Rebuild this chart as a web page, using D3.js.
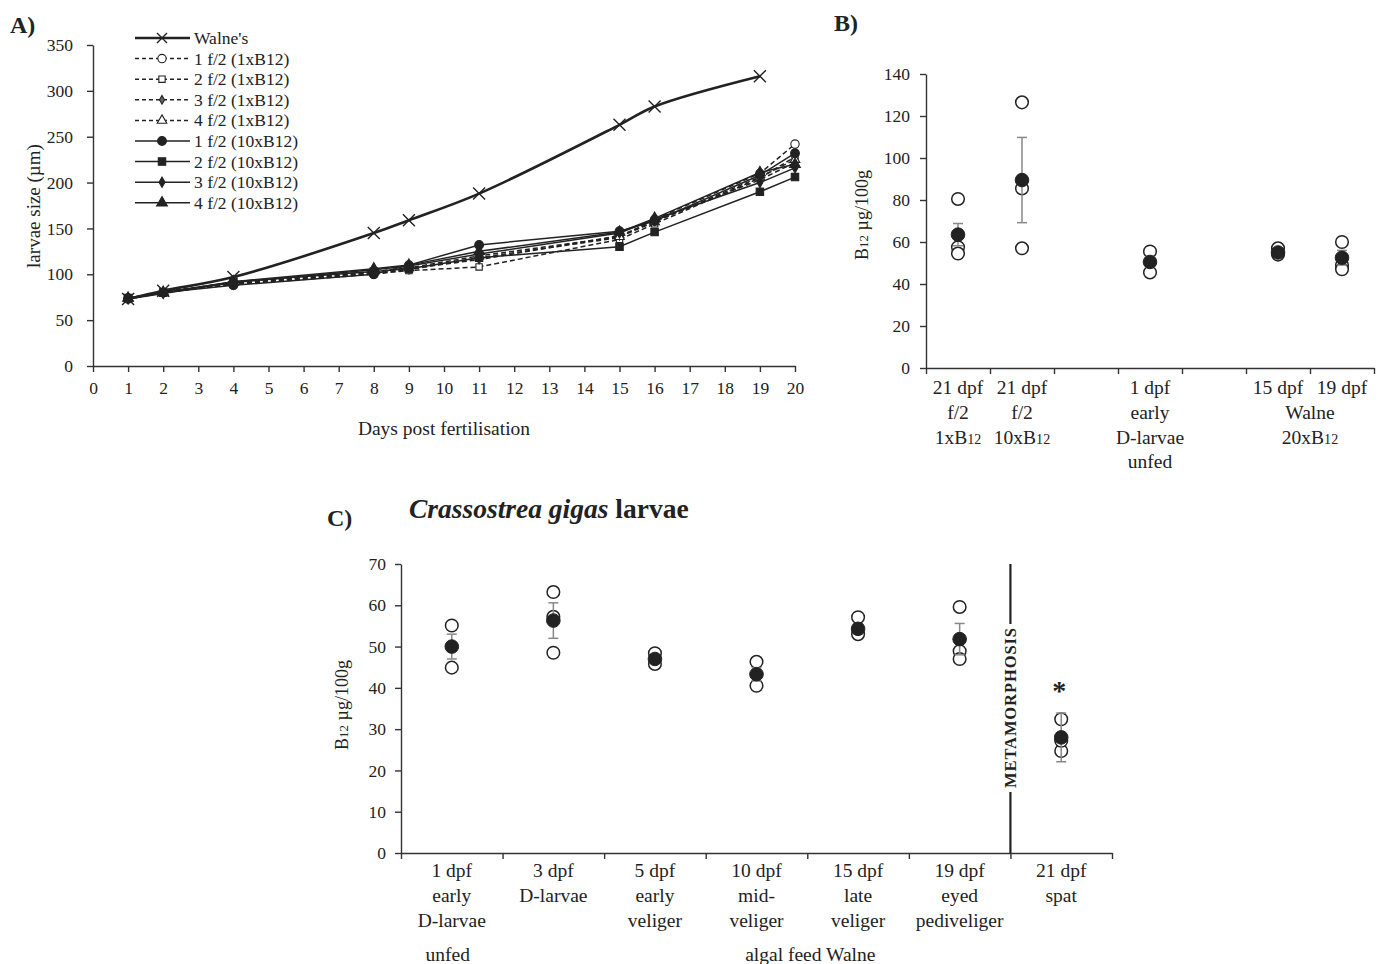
<!DOCTYPE html>
<html>
<head>
<meta charset="utf-8">
<script src="https://cdn.jsdelivr.net/npm/d3@7"></script>
<style>
  body { margin: 0; background: #fff; }
  svg { font-family: "Liberation Serif", "Times New Roman", serif; }
  .axis path, .axis line { stroke: #333; stroke-width: 1.4; }
  .axis text { font-size: 17.5px; fill: #222; font-family: "Liberation Serif", serif; }
</style>
</head>
<body>
<div class="chart"></div>
<script>
// ---- panel A: larvae growth ----
var walneDays = [1, 2, 4, 8, 9, 11, 15, 16, 19];
var walneSize = [73, 82, 97, 145, 159, 188, 263, 283, 316];
var f2Days = [1, 2, 4, 8, 9, 11, 15, 16, 19, 20];
var f2Names = ["1 f/2 (1xB12)", "2 f/2 (1xB12)", "3 f/2 (1xB12)", "4 f/2 (1xB12)",
               "1 f/2 (10xB12)", "2 f/2 (10xB12)", "3 f/2 (10xB12)", "4 f/2 (10xB12)"];
var f2Sizes = [
  [73, 80, 89, 100, 105, 118, 140, 160, 210, 242],
  [74, 81, 90, 101, 104, 108, 138, 155, 205, 228],
  [73, 80, 90, 102, 106, 116, 142, 158, 203, 222],
  [74, 81, 91, 103, 107, 120, 141, 157, 206, 225],
  [74, 80, 88, 100, 110, 132, 147, 158, 208, 232],
  [74, 80, 92, 103, 106, 118, 130, 146, 190, 206],
  [73, 79, 91, 105, 109, 122, 145, 160, 200, 216],
  [74, 80, 92, 106, 110, 125, 146, 161, 211, 220]
];

// ---- panel B: B12 content ----
var bCats = ["21f1", "21f10", "gap1", "1dpf", "gap2", "15dpf", "19dpf"];
var bMean = [63.5, 89.5, null, 50.5, null, 55, 52.5];
var bErr = [5.3, 20.3, null, 2.5, null, 1.2, 3.5];
var bReps = [[80.5, 57.5, 54.5], [126.5, 85.5, 57], [], [55.5, 45.5], [], [57, 54], [60, 49, 47]];

// ---- panel C: B12 over development ----
var cCats = ["1 dpf", "3 dpf", "5 dpf", "10 dpf", "15 dpf", "19 dpf", "21 dpf"];
var cLines = [["1 dpf", "early", "D-larvae"], ["3 dpf", "D-larvae"], ["5 dpf", "early", "veliger"],
              ["10 dpf", "mid-", "veliger"], ["15 dpf", "late", "veliger"],
              ["19 dpf", "eyed", "pediveliger"], ["21 dpf", "spat"]];
var cMean = [50, 56.3, 47, 43.3, 54.3, 51.8, 28];
var cErr = [3, 4.3, 1, 1.6, 1.2, 3.8, 5.9];
var cReps = [[55.1, 44.9], [63.2, 57.2, 48.5], [48.4, 45.8], [46.3, 40.5], [57.1, 53], [59.6, 48.9, 47], [32.4, 24.7, 27.2]];

var svg = d3.select(".chart").append("svg")
  .attr("width", 1385).attr("height", 964);

var ink = "#222";

function b12Text(sel, pre, post) {
  sel.append("tspan").text(pre + "B");
  sel.append("tspan").attr("font-size", "0.72em").text("12");
  if (post) sel.append("tspan").text(post);
}

// ================= A =================
var ax = d3.scaleLinear().domain([0, 20]).range([93, 795]);
var ay = d3.scaleLinear().domain([0, 350]).range([366, 45]);

svg.append("text").attr("x", 10).attr("y", 33).attr("font-size", 24)
  .attr("font-weight", "bold").attr("fill", ink).text("A)");

svg.append("g").attr("class", "axis")
  .attr("transform", "translate(0,366)")
  .call(d3.axisBottom(ax).tickValues(d3.range(0, 21)).tickSize(6).tickSizeOuter(0).tickPadding(10));

svg.append("g").attr("class", "axis")
  .attr("transform", "translate(93,0)")
  .call(d3.axisLeft(ay).tickValues(d3.range(0, 351, 50)).tickSize(6).tickSizeOuter(0).tickPadding(14));

svg.append("text").attr("x", 444).attr("y", 435).attr("text-anchor", "middle")
  .attr("font-size", 19.5).attr("fill", ink).text("Days post fertilisation");
svg.append("text").attr("transform", "translate(40,206) rotate(-90)")
  .attr("text-anchor", "middle").attr("font-size", 19).attr("fill", ink).text("larvae size (µm)");

var symTypes = [d3.symbolCircle, d3.symbolSquare, d3.symbolDiamond, d3.symbolTriangle,
                d3.symbolCircle, d3.symbolSquare, d3.symbolDiamond, d3.symbolTriangle];
var symSize = [55, 40, 22, 40, 60, 55, 30, 50];

var lineA = d3.line().x(function(d) { return ax(d[0]); }).y(function(d) { return ay(d[1]); });

f2Sizes.forEach(function(vals, i) {
  var pts = f2Days.map(function(d, j) { return [d, vals[j]]; });
  svg.append("path").attr("d", lineA(pts))
    .attr("fill", "none").attr("stroke", ink).attr("stroke-width", 1.5)
    .attr("stroke-dasharray", i < 4 ? "5,3" : null);
});
f2Sizes.forEach(function(vals, i) {
  svg.selectAll(null).data(f2Days.map(function(d, j) { return [d, vals[j]]; }))
    .enter().append("path")
    .attr("transform", function(d) { return "translate(" + ax(d[0]) + "," + ay(d[1]) + ")"; })
    .attr("d", d3.symbol().type(symTypes[i]).size(symSize[i]))
    .attr("fill", i < 4 ? (i == 2 ? "#666" : "#fff") : ink)
    .attr("stroke", ink).attr("stroke-width", 1.1);
});

var walnePts = walneDays.map(function(d, j) { return [d, walneSize[j]]; });
svg.append("path").attr("d", lineA.curve(d3.curveCatmullRom.alpha(0.5))(walnePts))
  .attr("fill", "none").attr("stroke", ink).attr("stroke-width", 2.6);
function cross(g, x, y, r) {
  g.append("path").attr("d", "M" + (x - r) + "," + (y - r) + "L" + (x + r) + "," + (y + r) +
    "M" + (x - r) + "," + (y + r) + "L" + (x + r) + "," + (y - r))
    .attr("stroke", ink).attr("stroke-width", 1.4);
}
walnePts.forEach(function(p) { cross(svg, ax(p[0]), ay(p[1]), 6); });

// legend
var leg = svg.append("g");
var legNames = ["Walne's"].concat(f2Names);
legNames.forEach(function(name, i) {
  var y = 38 + i * 20.6;
  leg.append("line").attr("x1", 135).attr("x2", 190).attr("y1", y).attr("y2", y)
    .attr("stroke", ink).attr("stroke-width", i == 0 ? 2.6 : 1.5)
    .attr("stroke-dasharray", i >= 1 && i <= 4 ? "4,3" : null);
  if (i == 0) {
    cross(leg, 162, y, 5);
  } else {
    var k = i - 1;
    leg.append("path").attr("transform", "translate(162," + y + ")")
      .attr("d", d3.symbol().type(symTypes[k]).size(symSize[k]))
      .attr("fill", k < 4 ? (k == 2 ? "#666" : "#fff") : ink)
      .attr("stroke", ink).attr("stroke-width", 1.1);
  }
  leg.append("text").attr("x", 194).attr("y", y + 6).attr("font-size", 17.5)
    .attr("fill", ink).text(name);
});

// ================= shared dot plot =================
function dots(g, xs, y, reps, mean, err) {
  reps.forEach(function(vals, i) {
    if (mean[i] == null) return;
    var cx = xs(i);
    g.selectAll(null).data(vals).enter().append("circle")
      .attr("cx", cx).attr("cy", function(d) { return y(d); }).attr("r", 6.3)
      .attr("fill", "#fff").attr("stroke", ink).attr("stroke-width", 1.5);
    var top = y(mean[i] + err[i]), bot = y(mean[i] - err[i]);
    g.append("line").attr("x1", cx).attr("x2", cx).attr("y1", top).attr("y2", bot)
      .attr("stroke", "#888").attr("stroke-width", 1.5);
    [top, bot].forEach(function(yy) {
      g.append("line").attr("x1", cx - 5).attr("x2", cx + 5).attr("y1", yy).attr("y2", yy)
        .attr("stroke", "#888").attr("stroke-width", 1.5);
    });
    g.append("circle").attr("cx", cx).attr("cy", y(mean[i])).attr("r", 6.8)
      .attr("fill", ink).attr("stroke", ink);
  });
}

// ================= B =================
var bx = d3.scaleBand().domain(d3.range(bCats.length)).range([926, 1374]);
var bEdge = d3.scaleLinear().domain([0, bCats.length]).range([926, 1374]);
var by = d3.scaleLinear().domain([0, 140]).range([368, 74]);

svg.append("text").attr("x", 834).attr("y", 31).attr("font-size", 24)
  .attr("font-weight", "bold").attr("fill", ink).text("B)");

svg.append("g").attr("class", "axis").attr("transform", "translate(0,368)")
  .call(d3.axisBottom(bEdge).tickValues(d3.range(0, bCats.length + 1)).tickFormat("").tickSize(6).tickSizeOuter(0));
svg.append("g").attr("class", "axis").attr("transform", "translate(926,0)")
  .call(d3.axisLeft(by).tickValues(d3.range(0, 141, 20)).tickSize(6).tickSizeOuter(0).tickPadding(10));

b12Text(svg.append("text").attr("transform", "translate(868,215) rotate(-90)")
  .attr("text-anchor", "middle").attr("font-size", 18).attr("fill", ink), "", " µg/100g");

function bCenter(i) { return bx(i) + bx.bandwidth() / 2; }
var bLabelRows = [394, 419, 444, 468];
var bSize = 19.5;
function label(g, x, row, txt, size) {
  return g.append("text").attr("x", x).attr("y", row).attr("text-anchor", "middle")
    .attr("font-size", size).attr("fill", ink).text(txt);
}
label(svg, bCenter(0), bLabelRows[0], "21 dpf", bSize);
label(svg, bCenter(0), bLabelRows[1], "f/2", bSize);
b12Text(svg.append("text").attr("x", bCenter(0)).attr("y", bLabelRows[2]).attr("text-anchor", "middle")
  .attr("font-size", bSize).attr("fill", ink), "1x");
label(svg, bCenter(1), bLabelRows[0], "21 dpf", bSize);
label(svg, bCenter(1), bLabelRows[1], "f/2", bSize);
b12Text(svg.append("text").attr("x", bCenter(1)).attr("y", bLabelRows[2]).attr("text-anchor", "middle")
  .attr("font-size", bSize).attr("fill", ink), "10x");
["1 dpf", "early", "D-larvae", "unfed"].forEach(function(t, r) { label(svg, bCenter(3), bLabelRows[r], t, bSize); });
label(svg, bCenter(5), bLabelRows[0], "15 dpf", bSize);
label(svg, bCenter(6), bLabelRows[0], "19 dpf", bSize);
label(svg, bEdge(6), bLabelRows[1], "Walne", bSize);
b12Text(svg.append("text").attr("x", bEdge(6)).attr("y", bLabelRows[2]).attr("text-anchor", "middle")
  .attr("font-size", bSize).attr("fill", ink), "20x");

dots(svg, bCenter, by, bReps, bMean, bErr);

// ================= C =================
var cx = d3.scaleBand().domain(d3.range(cCats.length)).range([401, 1112]);
var cEdge = d3.scaleLinear().domain([0, cCats.length]).range([401, 1112]);
var cy = d3.scaleLinear().domain([0, 70]).range([853, 564]);
function cCenter(i) { return cx(i) + cx.bandwidth() / 2; }

svg.append("text").attr("x", 327).attr("y", 526).attr("font-size", 24)
  .attr("font-weight", "bold").attr("fill", ink).text("C)");
var title = svg.append("text").attr("x", 409).attr("y", 518).attr("font-size", 27.5)
  .attr("font-weight", "bold").attr("fill", ink);
title.append("tspan").attr("font-style", "italic").text("Crassostrea gigas");
title.append("tspan").text(" larvae");

svg.append("g").attr("class", "axis").attr("transform", "translate(0,853)")
  .call(d3.axisBottom(cEdge).tickValues(d3.range(0, cCats.length + 1)).tickFormat("").tickSize(6).tickSizeOuter(0));
svg.append("g").attr("class", "axis").attr("transform", "translate(401,0)")
  .call(d3.axisLeft(cy).tickValues(d3.range(0, 71, 10)).tickSize(6).tickSizeOuter(0).tickPadding(9));

b12Text(svg.append("text").attr("transform", "translate(348,705) rotate(-90)")
  .attr("text-anchor", "middle").attr("font-size", 18).attr("fill", ink), "", " µg/100g");

var cSize = 19.5;
cLines.forEach(function(lines, i) {
  lines.forEach(function(t, r) { label(svg, cCenter(i), 877 + r * 25, t, cSize); });
});
label(svg, cCenter(0) - 4, 961, "unfed", cSize);
label(svg, cEdge(4) + 3, 961, "algal feed Walne", cSize);

// metamorphosis divider
var mx = cEdge(6);
svg.append("line").attr("x1", mx).attr("x2", mx).attr("y1", 564).attr("y2", 853)
  .attr("stroke", ink).attr("stroke-width", 2.2);
svg.append("rect").attr("x", mx - 10).attr("y", 624).attr("width", 20).attr("height", 168).attr("fill", "#fff");
svg.append("text").attr("transform", "translate(" + (mx + 6) + ",708) rotate(-90)")
  .attr("text-anchor", "middle").attr("font-size", 16.5).attr("font-weight", "bold")
  .attr("textLength", 160).attr("fill", ink).text("METAMORPHOSIS");

dots(svg, cCenter, cy, cReps, cMean, cErr);

svg.append("text").attr("x", cCenter(6) - 2).attr("y", cy(37)).attr("text-anchor", "middle")
  .attr("font-size", 28).attr("font-weight", "bold").attr("fill", ink).text("*");
</script>
</body>
</html>
